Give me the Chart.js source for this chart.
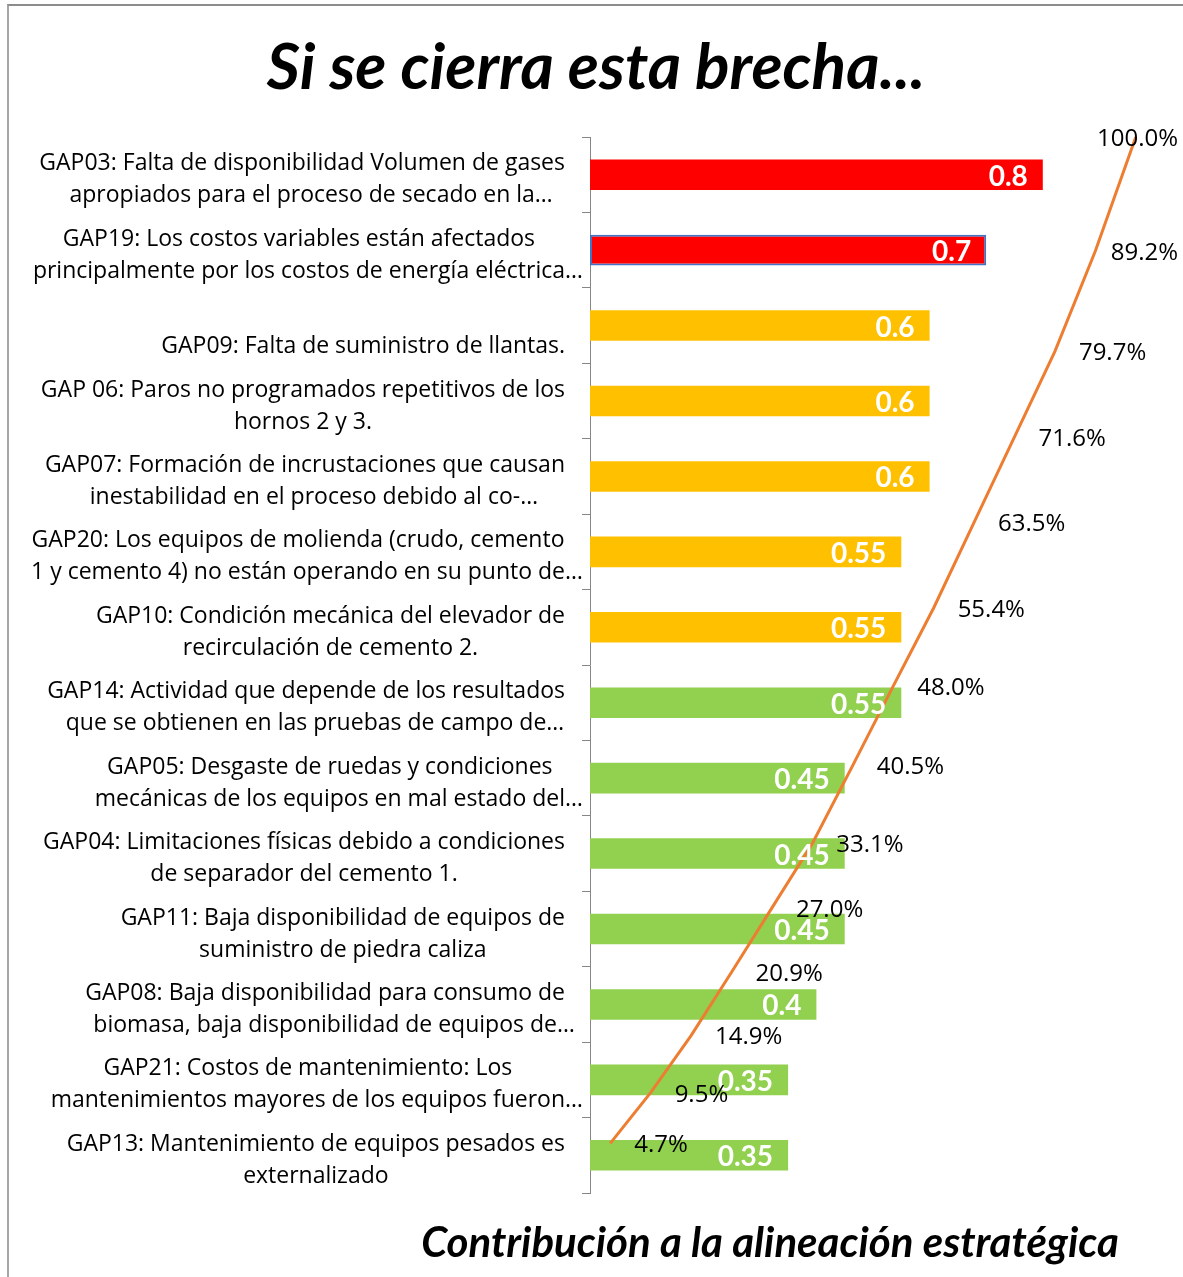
<!DOCTYPE html>
<html lang="es">
<head>
<meta charset="utf-8">
<title>Si se cierra esta brecha...</title>
<script src="https://cdn.jsdelivr.net/npm/chart.js"></script>
<style>
  html, body { margin: 0; padding: 0; background: #fff; }
  #wrap { position: relative; width: 1183px; height: 1277px; overflow: hidden; }
  #marco { position: absolute; left: 7px; top: 4px; right: -4px; bottom: -4px;
           border-top: 2px solid #8c8c8c; border-left: 2px solid #a6a6a6; pointer-events: none; }
  canvas { position: absolute; left: 0; top: 0; }
</style>
</head>
<body>
<div id="wrap">
  <canvas id="grafico" width="1183" height="1277"></canvas>
  <div id="marco"></div>
</div>
<script>
// Brechas (de arriba hacia abajo), cada etiqueta en dos líneas como en el original
const brechas = [
  ['GAP03: Falta de disponibilidad Volumen de gases', 'apropiados para el proceso de secado en la…'],
  ['GAP19: Los costos variables están afectados', 'principalmente por los costos de energía eléctrica…'],
  ['', 'GAP09: Falta de suministro de llantas.'],
  ['GAP 06: Paros no programados repetitivos de los', 'hornos 2 y 3.'],
  ['GAP07: Formación de incrustaciones que causan', 'inestabilidad en el proceso debido al co-…'],
  ['GAP20: Los equipos de molienda (crudo, cemento', '1 y cemento 4) no están operando en su punto de…'],
  ['GAP10: Condición mecánica del elevador de', 'recirculación de cemento 2.'],
  ['GAP14: Actividad que depende de los resultados', 'que se obtienen en las pruebas de campo de…'],
  ['GAP05: Desgaste de ruedas y condiciones', 'mecánicas de los equipos en mal estado del…'],
  ['GAP04: Limitaciones físicas debido a condiciones', 'de separador del cemento 1.'],
  ['GAP11: Baja disponibilidad de equipos de', 'suministro de piedra caliza'],
  ['GAP08: Baja disponibilidad para consumo de', 'biomasa, baja disponibilidad de equipos de…'],
  ['GAP21: Costos de mantenimiento: Los', 'mantenimientos mayores de los equipos fueron…'],
  ['GAP13: Mantenimiento de equipos pesados es', 'externalizado']
];

// Contribución de cada brecha
const valores = [0.8, 0.7, 0.6, 0.6, 0.6, 0.55, 0.55, 0.55, 0.45, 0.45, 0.45, 0.4, 0.35, 0.35];

const rojo = '#FF0000', ambar = '#FFC000', verde = '#92D050';
const coloresBarra = [rojo, rojo, ambar, ambar, ambar, ambar, ambar, verde, verde, verde, verde, verde, verde, verde];

// Curva acumulada (de abajo hacia arriba)
const brechasAcum = ['GAP13', 'GAP21', 'GAP08', 'GAP11', 'GAP04', 'GAP05', 'GAP14',
                     'GAP10', 'GAP20', 'GAP07', 'GAP 06', 'GAP09', 'GAP19', 'GAP03'];
const acumulado = [0.047, 0.095, 0.149, 0.209, 0.270, 0.331, 0.405,
                   0.480, 0.554, 0.635, 0.716, 0.797, 0.892, 1.000];

const titulo = 'Si se cierra esta brecha...';
const tituloEje = 'Contribución a la alineación estratégica';

const fuenteTexto = '"Open Sans", "Noto Sans", sans-serif';
const fuenteTitulo = 'Lato, "Open Sans", sans-serif';

// Dibuja etiquetas de categorías, valores y porcentajes
const etiquetasPlugin = {
  id: 'etiquetas',
  afterDatasetsDraw(chart) {
    const ctx = chart.ctx;
    const yScale = chart.scales.y;
    ctx.save();

    // etiquetas de las brechas: bloque centrado, alineado a la derecha
    ctx.font = '23px ' + fuenteTexto;
    ctx.fillStyle = '#000';
    ctx.textBaseline = 'middle';
    ctx.textAlign = 'left';
    const bordeDer = yScale.right - 25;
    brechas.forEach((lineas, i) => {
      const yc = yScale.getPixelForValue(i);
      const anchos = lineas.map(t => ctx.measureText(t.replace(/…$/, '')).width);
      const W = Math.max(...anchos);
      const cx = bordeDer - W / 2;
      lineas.forEach((t, k) => {
        const y = yc + (k - (lineas.length - 1) / 2) * 32 + 5;
        ctx.fillText(t, cx - anchos[k] / 2, y);
      });
    });

    // valores dentro de las barras
    const metaBar = chart.getDatasetMeta(0);
    ctx.font = 'bold 28px ' + fuenteTitulo;
    ctx.fillStyle = '#fff';
    ctx.textAlign = 'right';
    metaBar.data.forEach((bar, i) => {
      ctx.fillText(String(valores[i]), bar.x - 15, bar.y + 2);
    });

    // porcentajes de la curva
    const metaLin = chart.getDatasetMeta(1);
    ctx.font = '24px ' + fuenteTexto;
    ctx.fillStyle = '#000';
    ctx.textAlign = 'left';
    metaLin.data.forEach((pt, i) => {
      const txt = (acumulado[i] * 100).toFixed(1) + '%';
      const w = ctx.measureText(txt).width;
      let x = pt.x + 24;
      if (x + w > chart.width - 5) x = chart.width - 5 - w;
      ctx.fillText(txt, x, pt.y + 2);
    });
    ctx.restore();
  },
  afterDraw(chart) {
    const ctx = chart.ctx;
    ctx.save();
    ctx.font = 'italic bold 42px ' + fuenteTitulo;
    ctx.fillStyle = '#000';
    ctx.textAlign = 'center';
    ctx.textBaseline = 'middle';
    ctx.fillText(tituloEje, 770, chart.chartArea.bottom + 50);
    ctx.restore();
  }
};

new Chart(document.getElementById('grafico').getContext('2d'), {
  type: 'bar',
  data: {
    labels: brechas,
    datasets: [
      {
        label: 'Contribución',
        data: valores,
        backgroundColor: coloresBarra,
        borderColor: valores.map((v, i) => i === 1 ? '#4472C4' : 'rgba(0,0,0,0)'),
        borderWidth: valores.map((v, i) => i === 1 ? 2 : 0),
        borderSkipped: false,
        grouped: false,
        barPercentage: 0.405,
        categoryPercentage: 1,
        xAxisID: 'x',
        yAxisID: 'y',
        order: 1
      },
      {
        type: 'line',
        label: 'Acumulado',
        indexAxis: 'x',
        data: acumulado,
        borderColor: '#ED7D31',
        borderWidth: 3,
        pointRadius: 0,
        tension: 0,
        fill: false,
        clip: false,
        xAxisID: 'x2',
        yAxisID: 'y2',
        order: 0
      }
    ]
  },
  options: {
    indexAxis: 'y',
    responsive: false,
    animation: false,
    layout: { padding: { top: 0, right: 27, bottom: 84, left: 36 } },
    plugins: {
      legend: { display: false },
      tooltip: { enabled: false },
      title: {
        display: true,
        text: titulo,
        color: '#000',
        font: { family: fuenteTitulo, size: 64, weight: 'bold', style: 'italic' },
        padding: { top: 30.4, bottom: 29.8 }
      }
    },
    scales: {
      x: { type: 'linear', min: 0, max: 1, offset: false, display: false },
      y: {
        type: 'category',
        offset: true,
        afterFit: (s) => { s.width = 554; },
        ticks: { display: false },
        grid: { offset: true, drawOnChartArea: false, drawTicks: true, tickLength: 8, color: '#868686' },
        border: { display: true, color: '#868686', width: 1 }
      },
      x2: { type: 'category', labels: brechasAcum, offset: true, display: false },
      y2: { type: 'linear', min: 0, max: 1, offset: false, grid: { offset: false }, display: false }
    }
  },
  plugins: [etiquetasPlugin]
});
</script>
</body>
</html>
